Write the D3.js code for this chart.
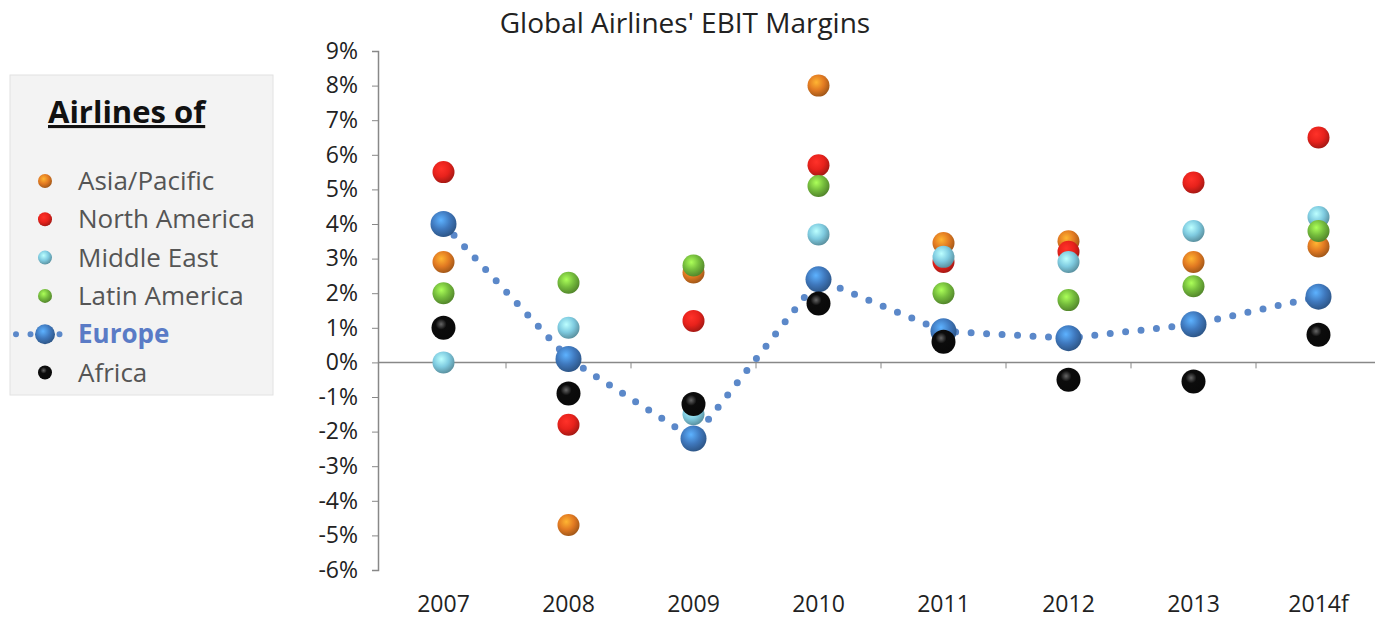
<!DOCTYPE html>
<html>
<head>
<meta charset="utf-8">
<script src="https://cdn.jsdelivr.net/npm/d3@7"></script>
<style>
  body { margin: 0; background: #fff; }
  text { font-family: "Open Sans", "Noto Sans", sans-serif; }
</style>
</head>
<body>
<script>
// Global airlines EBIT margins, dots per region, Europe joined by a dotted line

var years = ["2007", "2008", "2009", "2010", "2011", "2012", "2013", "2014f"];
var yTicks = [9, 8, 7, 6, 5, 4, 3, 2, 1, 0, -1, -2, -3, -4, -5, -6];

var asiaPacific   = [2.9, -4.7, 2.6, 8.0, 3.45, 3.5, 2.9, 3.35];
var northAmerica  = [5.5, -1.8, 1.2, 5.7, 2.9, 3.2, 5.2, 6.5];
var middleEast    = [0.0, 1.0, -1.5, 3.7, 3.05, 2.9, 3.8, 4.2];
var latinAmerica  = [2.0, 2.3, 2.8, 5.1, 2.0, 1.8, 2.2, 3.8];
var europe        = [4.0, 0.1, -2.2, 2.4, 0.9, 0.7, 1.1, 1.9];
var africa        = [1.0, -0.9, -1.2, 1.7, 0.6, -0.5, -0.55, 0.8];

var series = [
  { name: "Asia/Pacific",  values: asiaPacific,  color: "#e27a22", r: 11 },
  { name: "North America", values: northAmerica, color: "#e8221c", r: 11 },
  { name: "Middle East",   values: middleEast,   color: "#7fcbe0", r: 11 },
  { name: "Latin America", values: latinAmerica, color: "#74bb3c", r: 11 },
  { name: "Europe",        values: europe,       color: "#3f78bd", r: 13 },
  { name: "Africa",        values: africa,       color: "#0c0c0c", r: 12 }
];

var width = 1375, height = 620;

var svg = d3.select("body").append("svg")
  .attr("width", width)
  .attr("height", height);

// ball shading, one gradient per colour
var defs = svg.append("defs");
series.forEach(function(s, i) {
  var g = defs.append("radialGradient")
    .attr("id", "ball" + i)
    .attr("cx", "40%").attr("cy", "35%").attr("r", "65%");
  var c = d3.color(s.color);
  g.append("stop").attr("offset", "0%").attr("stop-color", s.name == "Africa" ? "#666" : c.brighter(1.1));
  g.append("stop").attr("offset", s.name == "Africa" ? "35%" : "55%").attr("stop-color", c);
  g.append("stop").attr("offset", "100%").attr("stop-color", c.darker(0.9));
});

var x = d3.scaleBand()
  .domain(years)
  .range([381, 1381]);

var y = d3.scaleLinear()
  .domain([-6, 9])
  .range([570, 51]);

// title
svg.append("text")
  .attr("x", 685)
  .attr("y", 33)
  .attr("text-anchor", "middle")
  .attr("font-size", 28)
  .attr("fill", "#222")
  .text("Global Airlines' EBIT Margins");

// y axis
var yAxis = svg.append("g")
  .attr("transform", "translate(378,0)")
  .call(d3.axisLeft(y).tickValues(yTicks).tickSize(6).tickPadding(14)
        .tickFormat(function(d) { return d + "%"; }));
yAxis.select(".domain").attr("stroke", "#888").attr("stroke-width", 1.5);
yAxis.selectAll(".tick line").attr("stroke", "#888");
yAxis.selectAll(".tick text")
  .attr("font-size", 23)
  .attr("fill", "#222")
  .style("font-family", "'Open Sans', sans-serif");

// x axis along the zero line, labels at the bottom
svg.append("line")
  .attr("x1", 378).attr("x2", 1378)
  .attr("y1", y(0)).attr("y2", y(0))
  .attr("stroke", "#888").attr("stroke-width", 1.5);

svg.selectAll(".xtick")
  .data(years.slice(1))
  .enter().append("line")
  .attr("x1", function(d) { return x(d); })
  .attr("x2", function(d) { return x(d); })
  .attr("y1", y(0)).attr("y2", y(0) + 6)
  .attr("stroke", "#888");

svg.selectAll(".xlabel")
  .data(years)
  .enter().append("text")
  .attr("x", function(d) { return x(d) + x.bandwidth() / 2; })
  .attr("y", 612)
  .attr("text-anchor", "middle")
  .attr("font-size", 23)
  .attr("fill", "#222")
  .text(function(d) { return d; });

// dotted Europe line
var line = d3.line()
  .x(function(d, i) { return x(years[i]) + x.bandwidth() / 2; })
  .y(function(d) { return y(d); });

svg.append("path")
  .datum(europe)
  .attr("d", line)
  .attr("fill", "none")
  .attr("stroke", "#5b88c9")
  .attr("stroke-width", 7)
  .attr("stroke-linecap", "round")
  .attr("stroke-dasharray", "0 15.5");

// balls
series.forEach(function(s, i) {
  svg.append("g").selectAll("circle")
    .data(s.values)
    .enter().append("circle")
    .attr("cx", function(d, j) { return x(years[j]) + x.bandwidth() / 2; })
    .attr("cy", function(d) { return y(d); })
    .attr("r", s.r)
    .attr("fill", "url(#ball" + i + ")");
});

// legend
var legend = svg.append("g");
legend.append("rect")
  .attr("x", 10).attr("y", 75)
  .attr("width", 263).attr("height", 320)
  .attr("fill", "#f3f3f3")
  .attr("stroke", "#e2e2e2");

legend.append("text")
  .attr("x", 48).attr("y", 123)
  .attr("font-size", 31)
  .attr("font-weight", "bold")
  .attr("fill", "#111")
  .attr("text-decoration", "underline")
  .text("Airlines of");

series.forEach(function(s, i) {
  var ly = 181 + i * 38.3;
  if (s.name == "Europe") {
    legend.append("line")
      .attr("x1", 16).attr("x2", 74)
      .attr("y1", ly).attr("y2", ly)
      .attr("stroke", "#5b88c9")
      .attr("stroke-width", 6)
      .attr("stroke-linecap", "round")
      .attr("stroke-dasharray", "0 14.5");
  }
  legend.append("circle")
    .attr("cx", 45).attr("cy", ly)
    .attr("r", s.name == "Europe" ? 10 : 7)
    .attr("fill", "url(#ball" + i + ")");
  legend.append("text")
    .attr("x", 78).attr("y", ly + 9)
    .attr("font-size", 26)
    .attr("fill", s.name == "Europe" ? "#5a7bc6" : "#555")
    .attr("font-weight", s.name == "Europe" ? "bold" : "normal")
    .text(s.name);
});
</script>
</body>
</html>
